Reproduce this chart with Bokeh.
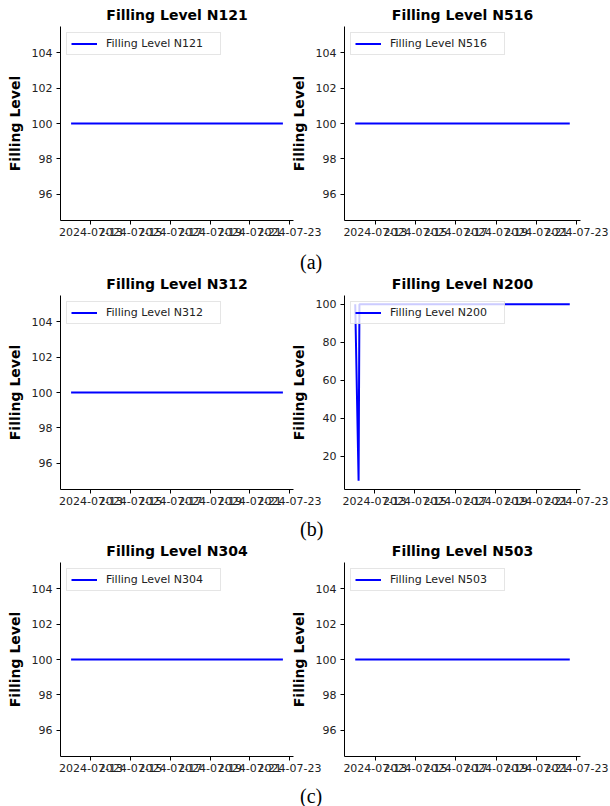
import pandas as pd
from bokeh.plotting import figure
from bokeh.layouts import row, column
from bokeh.models import Range1d, FixedTicker, DatetimeTickFormatter, Div
from bokeh.embed import file_html
from bokeh.resources import INLINE

# ---------------- data ----------------
sensors = ["N121", "N516", "N312", "N200", "N304", "N503"]
captions = ["(a)", "(b)", "(c)"]

times_n121 = ["2024-07-12 00:00", "2024-07-15 12:00", "2024-07-19 12:00", "2024-07-22 16:00"]
level_n121 = [100, 100, 100, 100]

times_n516 = ["2024-07-12 00:00", "2024-07-15 12:00", "2024-07-19 12:00", "2024-07-22 16:00"]
level_n516 = [100, 100, 100, 100]

times_n312 = ["2024-07-12 00:00", "2024-07-15 12:00", "2024-07-19 12:00", "2024-07-22 16:00"]
level_n312 = [100, 100, 100, 100]

times_n200 = ["2024-07-12 01:00", "2024-07-12 05:00", "2024-07-12 06:00", "2024-07-22 16:00"]
level_n200 = [100, 7, 100, 100]

times_n304 = ["2024-07-12 00:00", "2024-07-15 12:00", "2024-07-19 12:00", "2024-07-22 16:00"]
level_n304 = [100, 100, 100, 100]

times_n503 = ["2024-07-12 00:00", "2024-07-15 12:00", "2024-07-19 12:00", "2024-07-22 16:00"]
level_n503 = [100, 100, 100, 100]

x_tick_dates = ["2024-07-13", "2024-07-15", "2024-07-17", "2024-07-19", "2024-07-21", "2024-07-23"]
y_ticks_flat = [96, 98, 100, 102, 104]
y_ticks_n200 = [20, 40, 60, 80, 100]

series = {
    "N121": (times_n121, level_n121, y_ticks_flat),
    "N516": (times_n516, level_n516, y_ticks_flat),
    "N312": (times_n312, level_n312, y_ticks_flat),
    "N200": (times_n200, level_n200, y_ticks_n200),
    "N304": (times_n304, level_n304, y_ticks_flat),
    "N503": (times_n503, level_n503, y_ticks_flat),
}

FONT = "DejaVu Sans"
FRAME_TOP = 26
FRAME_H = 194
FIG_HEIGHTS = [255, 254, 250]
CAP_HEIGHTS = [14, 13, 20]


def ms(ts):
    return pd.Timestamp(ts).value / 1e6


def mpl_limits(lo, hi):
    if lo == hi:
        d = 0.05 * abs(lo) if lo != 0 else 1.0
        lo, hi = lo - d, hi + d
    pad = 0.05 * (hi - lo)
    return lo - pad, hi + pad


def make_panel(name, left_col, height):
    times, levels, yticks = series[name]
    t = pd.to_datetime(times)
    tx0, tx1 = ms(t.min()), ms(t.max())
    xpad = 0.05 * (tx1 - tx0)
    y0, y1 = mpl_limits(min(levels), max(levels))

    if left_col:
        w, mbl, mbr, margin = 330, 60, 37, (0, 0, 0, 0)
    else:
        w, mbl, mbr, margin = 323, 57, 30, (0, 0, 0, -43)

    p = figure(width=w, height=height, x_axis_type="datetime",
               output_backend="svg", toolbar_location=None,
               x_range=Range1d(tx0 - xpad, tx1 + xpad), y_range=Range1d(y0, y1),
               min_border_left=mbl, min_border_right=mbr,
               min_border_top=FRAME_TOP, min_border_bottom=height - FRAME_TOP - FRAME_H,
               title="Filling Level " + name, margin=margin)
    p.border_fill_color = None
    p.background_fill_color = None
    p.outline_line_color = None
    p.grid.visible = False

    p.title.text_font = FONT
    p.title.text_font_size = "14px"
    p.title.text_font_style = "bold"
    p.title.align = "center"
    p.title.standoff = 8
    p.title.text_color = "black"

    p.line(t, levels, line_color="blue", line_width=2,
           legend_label="Filling Level " + name)

    p.xaxis.ticker = FixedTicker(ticks=[ms(d) for d in x_tick_dates])
    fmt = "%Y-%m-%d"
    p.xaxis.formatter = DatetimeTickFormatter(
        microseconds=fmt, milliseconds=fmt, seconds=fmt, minsec=fmt, minutes=fmt,
        hourmin=fmt, hours=fmt, days=fmt, months=fmt, years=fmt)
    p.yaxis.ticker = FixedTicker(ticks=yticks)
    p.yaxis.axis_label = "Filling Level"

    for ax in (p.xaxis[0], p.yaxis[0]):
        ax.axis_line_color = "black"
        ax.axis_line_width = 1
        ax.major_tick_line_color = "black"
        ax.major_tick_in = 0
        ax.major_tick_out = 4
        ax.minor_tick_line_color = None
        ax.major_label_text_font = FONT
        ax.major_label_text_font_size = "11px"
        ax.major_label_text_color = "#222222"
        ax.axis_label_text_font = FONT
        ax.axis_label_text_font_size = "14px"
        ax.axis_label_text_font_style = "bold"
        ax.axis_label_text_color = "black"
    p.xaxis.major_label_standoff = 3
    p.yaxis.major_label_standoff = 4
    p.yaxis.axis_label_standoff = 6

    lg = p.legend[0]
    lg.location = "top_left"
    lg.margin = 6
    lg.padding = 4
    lg.spacing = 0
    lg.glyph_width = 26
    lg.glyph_height = 13
    lg.label_standoff = 9
    lg.label_width = 110
    lg.label_text_font = FONT
    lg.label_text_font_size = "11px"
    lg.label_text_color = "#222222"
    lg.border_line_color = "#cccccc"
    lg.border_line_width = 1
    lg.background_fill_alpha = 0.8
    return p


def make_caption(text, h):
    html = ('<div style="display:block; width:300px; padding-left:300px; '
            'font-family:\'Liberation Serif\'; font-size:20px; color:black; '
            'line-height:%dpx; white-space:nowrap;">%s</div>' % (h, text))
    return Div(text=html, width=610, height=h, margin=(0, 0, 0, 0))


items = []
for i in range(3):
    left = make_panel(sensors[2 * i], True, FIG_HEIGHTS[i])
    right = make_panel(sensors[2 * i + 1], False, FIG_HEIGHTS[i])
    items.append(row(left, right))
    items.append(make_caption(captions[i], CAP_HEIGHTS[i]))

layout = column(*items)
open("out.html", "w").write(file_html(layout, INLINE))
